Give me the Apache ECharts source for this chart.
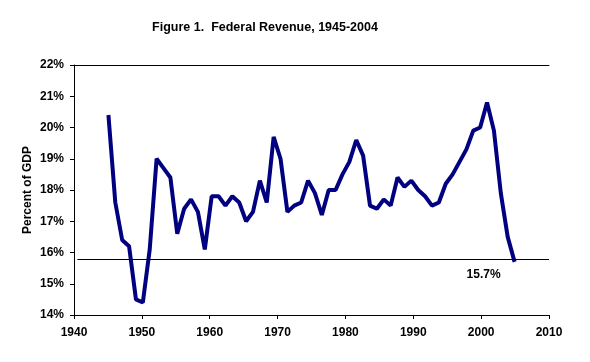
<!DOCTYPE html>
<html>
<head>
<meta charset="utf-8">
<script src="https://cdn.jsdelivr.net/npm/echarts@6/dist/echarts.min.js"></script>
<style>html,body{margin:0;padding:0;background:#fff;}#c{width:590px;height:362px;}</style>
</head>
<body>
<div id="c"></div>
<script>
var years = [];
for (var y = 1945; y <= 2004; y++) years.push(y);
var revenue = [
  20.4, 17.6, 16.4, 16.2, 14.5, 14.4, 16.1, 19.0, 18.7, 18.4,
  16.6, 17.4, 17.7, 17.3, 16.1, 17.8, 17.8, 17.5, 17.8, 17.6,
  17.0, 17.3, 18.3, 17.6, 19.7, 19.0, 17.3, 17.5, 17.6, 18.3,
  17.9, 17.2, 18.0, 18.0, 18.5, 18.9, 19.6, 19.1, 17.5, 17.4,
  17.7, 17.5, 18.4, 18.1, 18.3, 18.0, 17.8, 17.5, 17.6, 18.2,
  18.5, 18.9, 19.3, 19.9, 20.0, 20.8, 19.9, 17.9, 16.5, 15.7
];
var refLevel = 15.78;
var refLabel = '15.7%';
var xTicks = [1940, 1950, 1960, 1970, 1980, 1990, 2000, 2010];
var yTicks = [14, 15, 16, 17, 18, 19, 20, 21, 22];

var font = 'Liberation Sans, Arial, sans-serif';
var seriesData = years.map(function (yr, i) { return [yr, revenue[i]]; });

var chart = echarts.init(document.getElementById('c'), null, {renderer: 'canvas'});
chart.setOption({
  animation: false,
  backgroundColor: '#ffffff',
  title: {
    text: 'Figure 1.  Federal Revenue, 1945-2004',
    left: 260, textAlign: 'center', top: 16,
    textStyle: {fontFamily: font, fontSize: 12.5, fontWeight: 'bold', color: '#000'}
  },
  grid: {left: 74, top: 65, right: 41, bottom: 47},
  xAxis: [{
    type: 'value', min: xTicks[0], max: xTicks[xTicks.length - 1], interval: 10,
    position: 'bottom',
    axisLine: {show: true, lineStyle: {color: '#000', width: 1}},
    axisTick: {show: true, length: 4, inside: false, lineStyle: {color: '#000'}},
    axisLabel: {margin: 12, formatter: function (v) { return String(v); },
      fontFamily: font, fontSize: 12, fontWeight: 'bold', color: '#000'},
    splitLine: {show: false}
  }, {
    type: 'value', min: 1940, max: 2009,
    position: 'top',
    axisLine: {show: true, onZero: false, lineStyle: {color: '#000', width: 1}},
    axisTick: {show: false},
    axisLabel: {show: false},
    splitLine: {show: false}
  }],
  yAxis: {
    type: 'value', min: yTicks[0], max: yTicks[yTicks.length - 1], interval: 1,
    name: 'Percent of GDP', nameLocation: 'middle', nameGap: 40, nameMoveOverlap: false,
    nameTextStyle: {fontFamily: font, fontSize: 12, fontWeight: 'bold', color: '#000'},
    axisLine: {show: true, lineStyle: {color: '#000', width: 1}},
    axisTick: {show: true, length: 4, inside: false, lineStyle: {color: '#000'}},
    axisLabel: {margin: 10, formatter: '{value}%', fontFamily: font, fontSize: 12, fontWeight: 'bold', color: '#000'},
    splitLine: {show: false}
  },
  series: [{
    type: 'line',
    xAxisIndex: 1,
    data: seriesData,
    showSymbol: false,
    symbol: 'none',
    lineStyle: {color: '#000080', width: 4, join: 'bevel'},
    markLine: {
      silent: true, symbol: 'none',
      label: {show: false},
      lineStyle: {color: '#000', width: 1, type: 'solid'},
      data: [[{coord: [1940.5, refLevel]}, {coord: [2009, refLevel]}]]
    },
    markPoint: {
      symbol: 'circle', symbolSize: 0,
      data: [{coord: [2004, refLevel]}],
      label: {
        show: true, formatter: refLabel, offset: [-31, 15],
        fontFamily: font, fontSize: 12, fontWeight: 'bold', color: '#000'
      }
    }
  }]
});
</script>
</body>
</html>
